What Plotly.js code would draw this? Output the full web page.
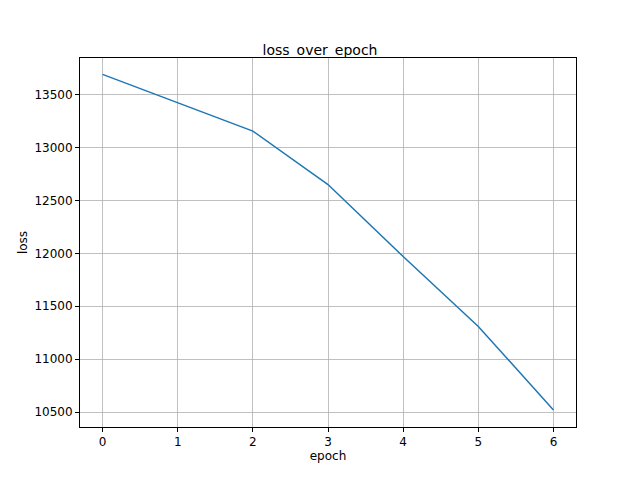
<!DOCTYPE html>
<html>
<head>
<script src="https://cdn.plot.ly/plotly-3.0.1.min.js"></script>
<style>body{margin:0}</style>
</head>
<body>
<div id="chart" style="width:640px;height:480px"></div>
<script>
// loss per epoch
const epochs = [0, 1, 2, 3, 4, 5, 6];
const loss = [13690, 13425, 13155, 12650, 11970, 11310, 10520];
const yTicks = [10500, 11000, 11500, 12000, 12500, 13000, 13500];

const trace = {
  x: epochs,
  y: loss,
  type: "scatter",
  mode: "lines",
  line: { color: "#1f77b4", width: 1.5 }
};

const axisStyle = {
  showgrid: true,
  gridcolor: "#b0b0b0",
  gridwidth: 0.8,
  zeroline: false,
  showline: true,
  mirror: true,
  linecolor: "black",
  linewidth: 1,
  ticks: "outside",
  ticklen: 4,
  tickcolor: "black",
  tickfont: { size: 12, color: "black" }
};

const layout = {
  width: 640,
  height: 480,
  margin: { t: 58, l: 80, r: 64, b: 53 },
  paper_bgcolor: "white",
  plot_bgcolor: "white",
  font: { family: "DejaVu Sans", color: "black" },
  showlegend: false,
  title: { text: "loss_over_epoch", font: { size: 14 }, x: 0.5, xanchor: "center", y: 0.885, yanchor: "bottom" },
  xaxis: Object.assign({}, axisStyle, {
    range: [-0.3, 6.3],
    tickvals: epochs,
    title: { text: "epoch", font: { size: 12 }, standoff: 2 }
  }),
  yaxis: Object.assign({}, axisStyle, {
    range: [10360, 13845],
    tickvals: yTicks,
    ticktext: yTicks.map(String),
    title: { text: "loss", font: { size: 12 }, standoff: 4 }
  })
};

Plotly.newPlot("chart", [trace], layout, { displayModeBar: false, staticPlot: true });
</script>
</body>
</html>
